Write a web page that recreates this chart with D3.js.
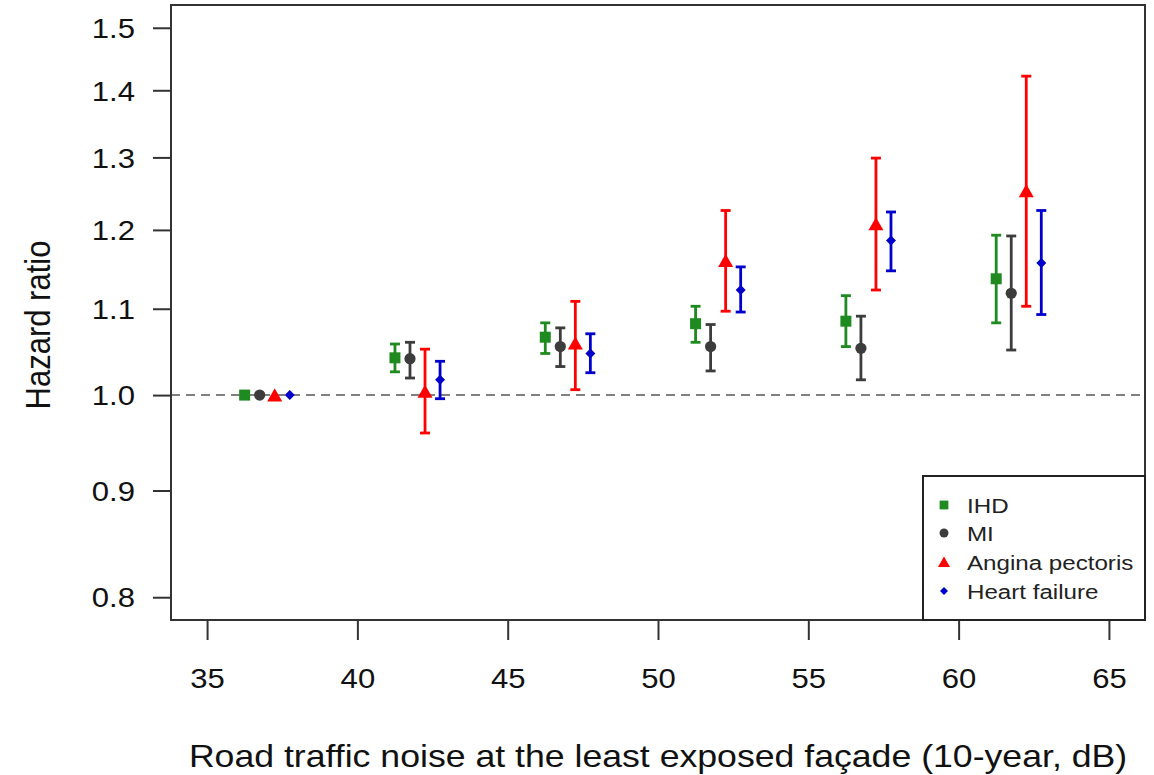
<!DOCTYPE html>
<html>
<head>
<meta charset="utf-8">
<script src="https://cdn.jsdelivr.net/npm/d3@7"></script>
<style>
  html, body { margin: 0; padding: 0; background: #fff; }
  svg { display: block; font-family: "Liberation Sans", Arial, sans-serif; }
</style>
</head>
<body>
<svg id="chart" width="1154" height="775"></svg>
<script>
// ---- Data ----
const noiseGroups = [35, 40, 45, 50, 55, 60];          // category start (dB)
const outcomes = ["IHD", "MI", "Angina pectoris", "Heart failure"];
const outcomeOffsets = [1.25, 1.75, 2.25, 2.75];          // dodge within group (dB)

const hrIHD    = [1.000, 1.042, 1.066, 1.082, 1.085, 1.137];
const loIHD    = [1.000, 1.026, 1.047, 1.060, 1.055, 1.083];
const hiIHD    = [1.000, 1.058, 1.083, 1.103, 1.116, 1.193];

const hrMI     = [1.000, 1.041, 1.055, 1.055, 1.053, 1.119];
const loMI     = [1.000, 1.019, 1.032, 1.027, 1.017, 1.051];
const hiMI     = [1.000, 1.060, 1.077, 1.081, 1.091, 1.192];

const hrAngina = [1.000, 1.004, 1.059, 1.160, 1.208, 1.253];
const loAngina = [1.000, 0.959, 1.006, 1.097, 1.123, 1.103];
const hiAngina = [1.000, 1.052, 1.109, 1.226, 1.299, 1.422];

const hrHF     = [1.000, 1.017, 1.047, 1.123, 1.186, 1.157];
const loHF     = [1.000, 0.996, 1.025, 1.096, 1.147, 1.093];
const hiHF     = [1.000, 1.038, 1.070, 1.152, 1.224, 1.226];

const xTicks = [35, 40, 45, 50, 55, 60, 65];
const yTicks = [0.8, 0.9, 1.0, 1.1, 1.2, 1.3, 1.4, 1.5];

const colors = ["#1f8a1f", "#3c3c3c", "#ff0000", "#0000cc"];

const series = [
  {hr: hrIHD, lo: loIHD, hi: hiIHD},
  {hr: hrMI, lo: loMI, hi: hiMI},
  {hr: hrAngina, lo: loAngina, hi: hiAngina},
  {hr: hrHF, lo: loHF, hi: hiHF}
];

// marker shapes (R pch 15, 16, 17, 18)
function markerPath(si, k) {
  const p = d3.path();
  if (si === 0) { const h = 5.5 * k; p.rect(-h, -h, 2 * h, 2 * h); }
  else if (si === 1) { p.arc(0, 0, 5.6 * k, 0, 2 * Math.PI); }
  else if (si === 2) { const s = 7.5 * k; p.moveTo(0, -s * 0.9); p.lineTo(s, s * 0.85); p.lineTo(-s, s * 0.85); p.closePath(); }
  else { const h = 5 * k; p.moveTo(0, -h); p.lineTo(h, 0); p.lineTo(0, h); p.lineTo(-h, 0); p.closePath(); }
  return p.toString();
}

// ---- Layout ----
const svg = d3.select("#chart");
const pLeft = 171, pRight = 1145, pTop = 5, pBottom = 620;
const sx = 1.15; // horizontal stretch of text in the reference

// R-style 4% axis extension
const xPad = (65 - 35) * 0.04;
const x = d3.scaleLinear().domain([35 - xPad, 65 + xPad]).range([pLeft, pRight]);
const lPad = (Math.log(1.5) - Math.log(0.8)) * 0.04;
const y = d3.scaleLog().domain([Math.exp(Math.log(0.8) - lPad), Math.exp(Math.log(1.5) + lPad)]).range([pBottom, pTop]);

const axisColor = "#333";

// reference line at HR = 1
svg.append("line")
  .attr("x1", pLeft).attr("x2", pRight)
  .attr("y1", y(1)).attr("y2", y(1))
  .attr("stroke", "#808080").attr("stroke-width", 2)
  .attr("stroke-dasharray", "9,6");

// y axis
const yAxis = svg.append("g").attr("transform", `translate(${pLeft},0)`)
  .call(d3.axisLeft(y).tickValues(yTicks).tickFormat(d3.format(".1f")).tickSize(18).tickPadding(18));
yAxis.select(".domain").remove();
yAxis.selectAll(".tick line").attr("stroke", axisColor).attr("stroke-width", 2);
yAxis.selectAll(".tick text")
  .attr("font-size", 27).attr("fill", "#111").attr("dy", "0.36em")
  .attr("x", null)
  .attr("transform", `translate(-36,0) scale(${sx},1)`);

// x axis
const xAxis = svg.append("g").attr("transform", `translate(0,${pBottom})`)
  .call(d3.axisBottom(x).tickValues(xTicks).tickFormat(d3.format("d")).tickSize(20).tickPadding(29));
xAxis.select(".domain").remove();
xAxis.selectAll(".tick line").attr("stroke", axisColor).attr("stroke-width", 2);
xAxis.selectAll(".tick text").attr("font-size", 27).attr("fill", "#111")
  .attr("transform", `scale(${sx},1)`);

// box
svg.append("rect")
  .attr("x", pLeft).attr("y", pTop).attr("width", pRight - pLeft).attr("height", pBottom - pTop)
  .attr("fill", "none").attr("stroke", axisColor).attr("stroke-width", 2);

// error bars + points
const capHalf = 5;
series.forEach((s, si) => {
  const g = svg.append("g");
  noiseGroups.forEach((gx, i) => {
    const cx = x(gx + outcomeOffsets[si]);
    if (s.hi[i] !== s.lo[i]) {
      g.append("line").attr("x1", cx).attr("x2", cx)
        .attr("y1", y(s.lo[i])).attr("y2", y(s.hi[i]))
        .attr("stroke", colors[si]).attr("stroke-width", 2.8);
      [s.lo[i], s.hi[i]].forEach(v => {
        g.append("line").attr("x1", cx - capHalf).attr("x2", cx + capHalf)
          .attr("y1", y(v)).attr("y2", y(v))
          .attr("stroke", colors[si]).attr("stroke-width", 2.8);
      });
    }
    g.append("path")
      .attr("d", markerPath(si, 1))
      .attr("transform", `translate(${cx},${y(s.hr[i])})`)
      .attr("fill", colors[si]);
  });
});

// legend
const legX = 923, legY = 476;
svg.append("rect")
  .attr("x", legX).attr("y", legY).attr("width", pRight - legX).attr("height", pBottom - legY)
  .attr("fill", "#fff").attr("stroke", "#222").attr("stroke-width", 2);
const legRows = [505, 533, 562, 591];
outcomes.forEach((name, i) => {
  svg.append("path")
    .attr("d", markerPath(i, 0.8))
    .attr("transform", `translate(944,${legRows[i]})`)
    .attr("fill", colors[i]);
  svg.append("text")
    .attr("transform", `translate(967,${legRows[i]}) scale(${sx},1)`)
    .attr("dy", "0.36em")
    .attr("font-size", 21).attr("fill", "#222").text(name);
});

// axis titles
svg.append("text")
  .attr("transform", `translate(658,767) scale(${sx},1)`)
  .attr("text-anchor", "middle").attr("font-size", 31).attr("fill", "#111")
  .text("Road traffic noise at the least exposed façade (10-year, dB)");

svg.append("text")
  .attr("transform", `translate(50,325) rotate(-90) scale(1,${sx})`)
  .attr("text-anchor", "middle").attr("font-size", 31).attr("fill", "#111")
  .text("Hazard ratio");
</script>
</body>
</html>
